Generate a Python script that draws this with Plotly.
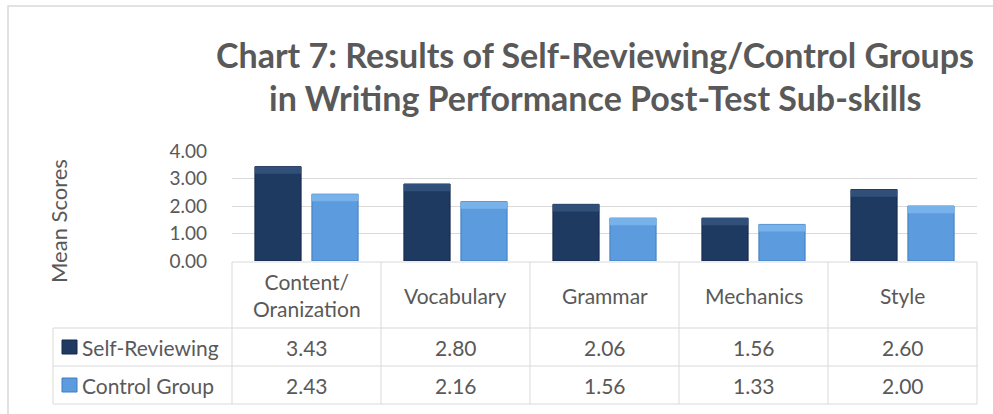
import plotly.graph_objects as go

# Data
categories = ["Content/<br>Oranization", "Vocabulary", "Grammar", "Mechanics", "Style"]
series_names = ["Self-Reviewing", "Control Group"]
self_reviewing = [3.43, 2.80, 2.06, 1.56, 2.60]
control_group = [2.43, 2.16, 1.56, 1.33, 2.00]
y_ticks = [0, 1, 2, 3, 4]

series_values = [self_reviewing, control_group]
body_colors = ["#1E3A60", "#5B9BDE"]
edge_colors = ["#14284A", "#3F7CC0"]
bevel_colors = ["#30507A", "#78B2EA"]

GRID = "#D9D9D9"
TEXT = "#595959"
FONT = "Lato"

# plot area in pixels (figure is 993 x 414)
W, H = 993, 414
L, R, T, B = 232, 977, 151, 261


def px(x):
    return (x - L) / (R - L)


def py(y):
    return (B - y) / (B - T)


fig = go.Figure()

bevel = 0.26
for i, (name, vals) in enumerate(zip(series_names, series_values)):
    fig.add_trace(go.Bar(
        name=name, x=categories, y=vals, offsetgroup=str(i),
        marker=dict(color=body_colors[i], line=dict(color=edge_colors[i], width=1)),
        showlegend=False,
    ))
    # lighter strip on top to mimic the bevel
    fig.add_trace(go.Bar(
        x=categories, y=[bevel] * len(vals), base=[v - bevel for v in vals],
        offsetgroup=str(i), hoverinfo="skip",
        marker=dict(color=bevel_colors[i], line=dict(width=0)),
        showlegend=False,
    ))

shapes = []
annotations = []


def hline(y, x0, x1):
    shapes.append(dict(type="line", xref="paper", yref="paper",
                       x0=px(x0), x1=px(x1), y0=py(y), y1=py(y),
                       line=dict(color=GRID, width=1)))


def vline(x, y0, y1):
    shapes.append(dict(type="line", xref="paper", yref="paper",
                       x0=px(x), x1=px(x), y0=py(y0), y1=py(y1),
                       line=dict(color=GRID, width=1)))


def label(x, y, text, size, **kw):
    annotations.append(dict(x=px(x), y=py(y), xref="paper", yref="paper", text=text,
                            showarrow=False, xanchor=kw.pop("xanchor", "center"),
                            yanchor="middle", font=dict(size=size, color=TEXT, family=FONT), **kw))


# outer chart border
shapes.append(dict(type="rect", xref="paper", yref="paper",
                   x0=px(8), x1=px(1005), y0=py(6), y1=py(425),
                   line=dict(color=GRID, width=1.5), fillcolor="rgba(0,0,0,0)"))

# data table grid
n = len(categories)
row_top, head_bot, row1_bot, row2_bot = 262, 328, 366, 404
legend_left = 53
hline(row_top, L, R)
for y in (head_bot, row1_bot, row2_bot):
    hline(y, legend_left, R)
vline(legend_left, head_bot, row2_bot)
for k in range(n + 1):
    vline(L + k * (R - L) / n, row_top, row2_bot)

row_mid = [(head_bot + row1_bot) / 2, (row1_bot + row2_bot) / 2]

# table text
col_w = (R - L) / n
for k, cat in enumerate(categories):
    cx = L + (k + 0.5) * col_w
    label(cx, (row_top + head_bot) / 2, cat, 21)
    for r, vals in enumerate(series_values):
        label(cx, row_mid[r], f"{vals[k]:.2f}", 21)

# legend keys and names in the table
for r, name in enumerate(series_names):
    ry = row_mid[r]
    shapes.append(dict(type="rect", xref="paper", yref="paper",
                       x0=px(62), x1=px(77), y0=py(ry - 7), y1=py(ry + 7),
                       fillcolor=body_colors[r], line=dict(color=edge_colors[r], width=1)))
    label(80, ry, name, 21, xanchor="left")

# title lines
label(595, 54, "<b>Chart 7: Results of Self-Reviewing/Control Groups</b>", 34)
label(595, 97, "<b>in Writing Performance Post-Test Sub-skills</b>", 34)

# y axis title
label(58, 221, "Mean Scores", 22, textangle=-90)

fig.update_layout(
    width=W, height=H,
    margin=dict(l=L, r=W - R, t=T, b=H - B),
    paper_bgcolor="white", plot_bgcolor="white",
    barmode="group", bargap=0.235, bargroupgap=0.19,
    shapes=shapes, annotations=annotations,
    font=dict(family=FONT, color=TEXT),
)
fig.update_xaxes(showticklabels=False, showgrid=False, zeroline=False, showline=False, ticks="")
fig.update_yaxes(range=[0, 4], tickvals=y_ticks, tickformat=".2f",
                 showgrid=True, gridcolor=GRID, gridwidth=1, zeroline=False,
                 tickfont=dict(size=19, color=TEXT, family=FONT), ticklabelstandoff=24)

# the page's default body margin would push the figure 8px off its place
fig.write_html("out.html", config={"displayModeBar": False},
               post_script="document.body.style.margin='0';")
